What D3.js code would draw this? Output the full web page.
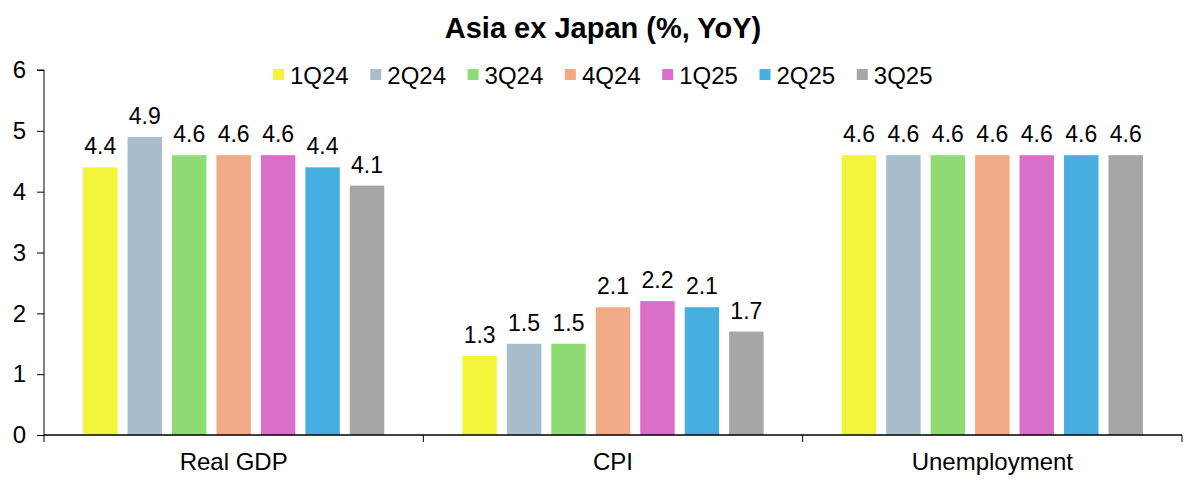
<!DOCTYPE html>
<html><head><meta charset="utf-8">
<script src="https://cdn.jsdelivr.net/npm/d3@7"></script>
<style>body{margin:0;background:#fff;} svg{font-family:"Liberation Sans",Arial,sans-serif;}</style>
</head><body>
<svg id="c" width="1200" height="486"></svg>
<script>
const categories = ["Real GDP", "CPI", "Unemployment"];
const seriesNames = ["1Q24", "2Q24", "3Q24", "4Q24", "1Q25", "2Q25", "3Q25"];
const realGDP = [4.4, 4.9, 4.6, 4.6, 4.6, 4.4, 4.1];
const cpi = [1.3, 1.5, 1.5, 2.1, 2.2, 2.1, 1.7];
const unemployment = [4.6, 4.6, 4.6, 4.6, 4.6, 4.6, 4.6];
const colors = ["#f2f53a", "#a7bfcc", "#8fdb76", "#f2aa86", "#d96fc9", "#47afe0", "#a6a6a6"];
const yTicks = [0, 1, 2, 3, 4, 5, 6];
const title = "Asia ex Japan (%, YoY)";

(function () {
const valuesByCat = [realGDP, cpi, unemployment];
const svg = d3.select("#c");
const mLeft = 44, mRight = 1182, mTop = 70, mBottom = 435;

const y = d3.scaleLinear().domain([0, 6]).range([mBottom, mTop]);
const x0 = d3.scaleBand().domain(categories).range([mLeft, mRight]).padding(0);
const bw = x0.bandwidth();
const x1 = d3.scaleBand().domain(seriesNames).range([bw * 0.103, bw * 0.897]).paddingInner(0.225).paddingOuter(0);

svg.append("text").attr("x", 603).attr("y", 38).attr("text-anchor", "middle")
  .attr("font-size", 29).attr("font-weight", "bold").attr("fill", "#000").text(title);

const g = svg.append("g");
categories.forEach((c, ci) => {
  const gc = g.append("g").attr("transform", `translate(${x0(c)},0)`);
  gc.selectAll("rect").data(valuesByCat[ci]).join("rect")
    .attr("x", (d, i) => x1(seriesNames[i]))
    .attr("y", d => y(d))
    .attr("width", x1.bandwidth())
    .attr("height", d => y(0) - y(d))
    .attr("fill", (d, i) => colors[i]);
  gc.selectAll("text").data(valuesByCat[ci]).join("text")
    .attr("x", (d, i) => x1(seriesNames[i]) + x1.bandwidth() / 2)
    .attr("y", d => y(d) - 13)
    .attr("text-anchor", "middle").attr("font-size", 23).attr("fill", "#000")
    .text(d => d.toFixed(1));
});

const yAxis = d3.axisLeft(y).tickValues(yTicks).tickSize(7).tickPadding(11).tickFormat(d3.format("d"));
const ya = svg.append("g").attr("transform", `translate(${mLeft},0)`).call(yAxis);
ya.selectAll("text").attr("font-size", 24).attr("fill", "#000").attr("font-family", "Liberation Sans, Arial, sans-serif");
ya.selectAll("line").attr("stroke", "#000");
ya.select(".domain").attr("stroke", "#000").attr("d", `M-7,${mTop}H0V${mBottom}`);

const xa = svg.append("g").attr("transform", `translate(0,${mBottom})`);
xa.append("line").attr("x1", mLeft).attr("x2", mRight).attr("y1", 0).attr("y2", 0).attr("stroke", "#000").attr("stroke-width", 1.3);
const boundaries = categories.map(c => x0(c)).concat([x0(categories[categories.length - 1]) + bw]);
xa.selectAll("line.tk").data(boundaries).join("line").attr("class", "tk")
  .attr("x1", d => d).attr("x2", d => d).attr("y1", 0).attr("y2", 7).attr("stroke", "#000");
xa.selectAll("text").data(categories).join("text")
  .attr("x", d => x0(d) + bw / 2).attr("y", 35).attr("text-anchor", "middle")
  .attr("font-size", 24).attr("fill", "#000").text(d => d);

const legend = svg.append("g");
const lx0 = 273, lstep = 97.3, ly = 75;
seriesNames.forEach((s, i) => {
  const lg = legend.append("g").attr("transform", `translate(${lx0 + i * lstep},${ly})`);
  lg.append("rect").attr("x", 0).attr("y", -6).attr("width", 11).attr("height", 11).attr("fill", colors[i]);
  lg.append("text").attr("x", 17).attr("y", 9).attr("font-size", 24).attr("fill", "#000").text(s);
});
})();
</script>
</body></html>
